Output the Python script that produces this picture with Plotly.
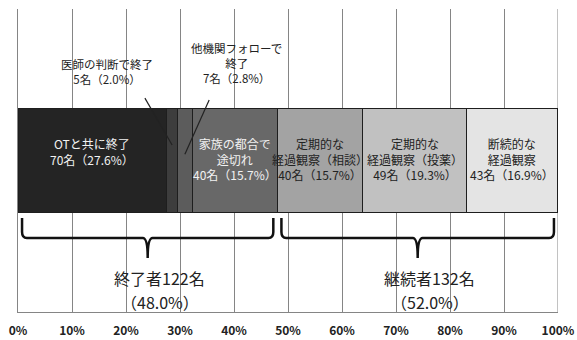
import plotly.graph_objects as go

# ---- data ----
categories = ["OTと共に終了", "医師の判断で終了", "他機関フォローで<br>終了", "家族の都合で<br>途切れ",
              "定期的な<br>経過観察（相談）", "定期的な<br>経過観察（投薬）", "断続的な<br>経過観察"]
counts = [70, 5, 7, 40, 40, 49, 43]
groups = ["終了者", "継続者"]
group_sizes = [4, 3]
tick_vals = [0, 10, 20, 30, 40, 50, 60, 70, 80, 90, 100]
tick_labels = ["0%", "10%", "20%", "30%", "40%", "50%", "60%", "70%", "80%", "90%", "100%"]

colors = ["#242424", "#3d3d3d", "#5c5c5c", "#686868", "#a3a3a3", "#c1c1c1", "#e4e4e4"]
text_colors = ["#f2f2f2", "#f2f2f2", "#f2f2f2", "#f2f2f2", "#222222", "#222222", "#222222"]
FONT = "Noto Sans CJK JP"

total = sum(counts)
pcts = [c / total * 100 for c in counts]
starts = []
acc = 0
for p in pcts:
    starts.append(acc)
    acc += p
centers = [s + p / 2 for s, p in zip(starts, pcts)]

fig = go.Figure()
for cat, p, col in zip(categories, pcts, colors):
    fig.add_trace(go.Bar(
        x=[p], y=[0.5], orientation="h", width=0.343,
        marker=dict(color=col, line=dict(color="#1e1e1e", width=1.3)),
        name=cat, hoverinfo="skip", showlegend=False,
    ))

annotations = []
shapes = []
inside = [0, 3, 4, 5, 6]
for i in inside:
    annotations.append(dict(
        x=centers[i], y=0.59, xref="x", yref="y", yanchor="top", showarrow=False,
        text=f"{categories[i]}<br>{counts[i]}名（{pcts[i]:.1f}%）",
        font=dict(family=FONT, size=12, color=text_colors[i]),
    ))

# callout labels for small segments
callouts = [(1, 16.5, 0.794, 23.5, 0.706, 0.551), (2, 40.4, 0.823, 35.4, 0.700, 0.521)]
for i, lx, ly, x0, y0, y1 in callouts:
    annotations.append(dict(
        x=lx, y=ly, xref="x", yref="y", showarrow=False,
        text=f"{categories[i]}<br>{counts[i]}名（{pcts[i]:.1f}%）",
        font=dict(family=FONT, size=11.5, color="#222"),
    ))
    shapes.append(dict(type="line", xref="x", yref="y", x0=x0, y0=y0, x1=centers[i], y1=y1,
                       line=dict(color="#222", width=1.2)))

# braces
ytop, yh, ytip = 0.310, 0.244, 0.178
gi = 0
for g, n in zip(groups, group_sizes):
    gs = starts[gi]
    ge = starts[gi + n - 1] + pcts[gi + n - 1]
    gcount = sum(counts[gi:gi + n])
    gi += n
    x0, x1 = gs + 0.75, ge - 0.75
    tip = (gs + ge) / 2
    d = 0.9
    path = (f"M {x0},{ytop} L {x0},{yh + 0.02} Q {x0},{yh} {x0 + d},{yh} "
            f"L {tip - d},{yh} Q {tip},{yh} {tip},{ytip} Q {tip},{yh} {tip + d},{yh} "
            f"L {x1 - d},{yh} Q {x1},{yh} {x1},{yh + 0.02} L {x1},{ytop}")
    shapes.append(dict(type="path", xref="x", yref="y", path=path,
                       line=dict(color="#111", width=2.5)))
    annotations.append(dict(
        x=tip + 2.2, y=0.112, xref="x", yref="y", showarrow=False,
        text=f"{g}{gcount}名",
        font=dict(family=FONT, size=16, color="#222"),
    ))
    annotations.append(dict(
        x=tip + 2.2, y=0.033, xref="x", yref="y", showarrow=False,
        text=f"（{gcount / total * 100:.1f}%）",
        font=dict(family=FONT, size=16, color="#222"),
    ))

fig.update_layout(
    width=577, height=340, barmode="stack",
    margin=dict(l=18, r=19, t=9, b=28, autoexpand=False),
    paper_bgcolor="white", plot_bgcolor="white",
    xaxis=dict(range=[0, 100], tickvals=tick_vals, ticktext=tick_labels,
               showgrid=True, gridcolor="#858585", gridwidth=1, zeroline=False,
               showline=True, linecolor="#858585", linewidth=1, ticks="",
               tickfont=dict(family=FONT, size=12, color="#222", weight="bold"),
               ticklabelstandoff=8, automargin=False, fixedrange=True),
    yaxis=dict(range=[0, 1], showgrid=False, zeroline=False, showticklabels=False,
               showline=True, mirror=False, linecolor="#858585", automargin=False,
               fixedrange=True),
    annotations=annotations, shapes=shapes,
)
fig.add_shape(type="line", xref="x", yref="paper", x0=100, x1=100, y0=0, y1=1,
              line=dict(color="#858585", width=1), layer="below")
fig.write_html("out.html")
